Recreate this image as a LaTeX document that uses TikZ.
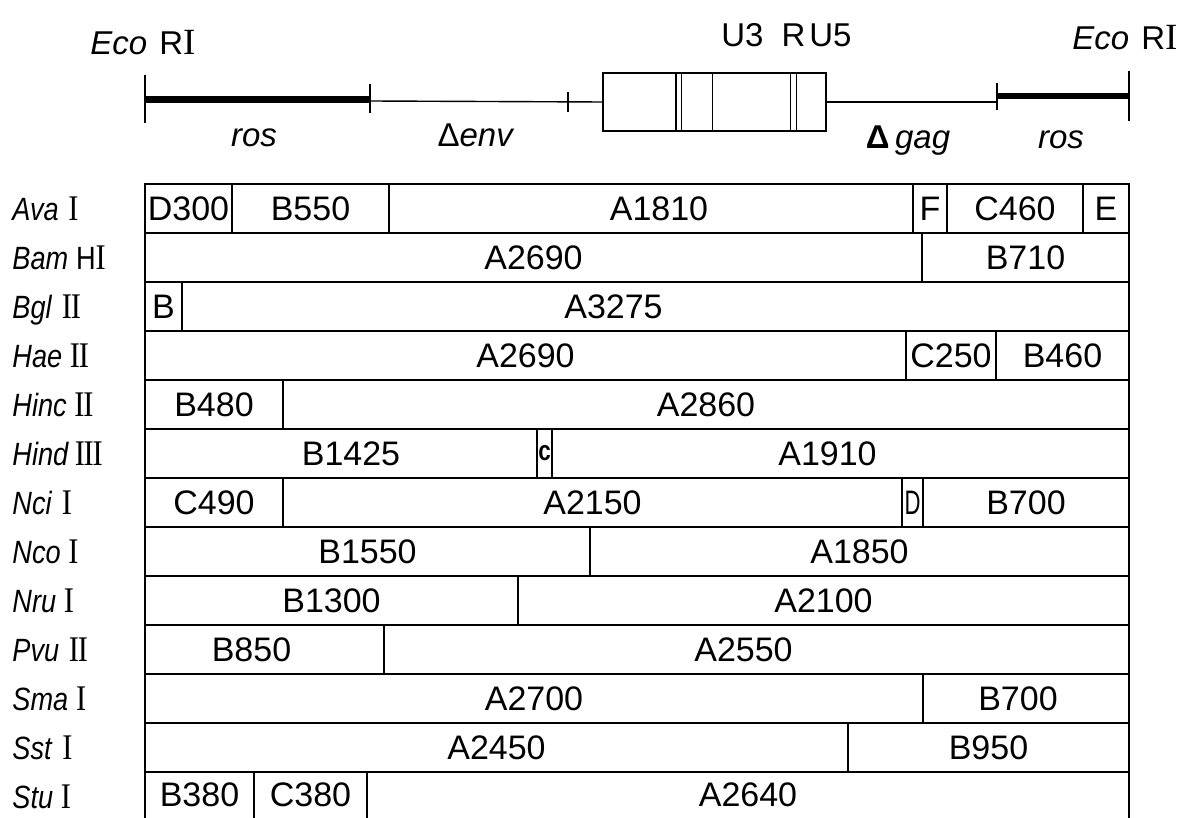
\documentclass[tikz,border=0pt]{standalone}
\usepackage{graphicx}
\usepackage{fontspec}
\setmainfont{Liberation Sans}
\newfontfamily\lserif{Liberation Serif}
\newcommand\cfnt{\fontsize{17}{17}\selectfont}
\newcommand\lfnt{\fontsize{14}{14}\selectfont}
\newcommand\tfnt{\fontsize{16.5}{16.5}\selectfont}
\newcommand\rn[1]{\scalebox{1.12}{\lserif #1}}
\newcommand\tall[1]{\scalebox{0.97}[1.15]{#1}}
\newcommand\cel[5]{\node[cellst, minimum width={(#3-#2)*0.5pt}] (#1) at ({(#2+#3)/2},{208.5+49*#4}) {#5};}
\newcommand\celo[6]{\node[cellst, minimum width={(#3-#2)*0.5pt}, label={[font=\cfnt, inner sep=0pt, xshift={#5*0.5pt}]center:#6}] (#1) at ({(#2+#3)/2},{208.5+49*#4}) {};}
\newcommand\stu[4]{\node[stust, minimum width={(#3-#2)*0.5pt}] (#1) at ({(#2+#3)/2},795) {#4};}
\newcommand\enz[3]{\node[enzst] (#1) at (12,{220.5+49*#2}) {\tall{#3}};}
\begin{document}
\begin{tikzpicture}[x=0.5pt,y=-0.5pt,
  cellst/.style={draw, line width=0.9pt, inner sep=0pt, outer sep=0pt, minimum height=24.5pt, font=\cfnt},
  stust/.style={inner sep=0pt, outer sep=0pt, minimum height=23pt, font=\cfnt},
  enzst/.style={anchor=base west, inner sep=0pt, font=\lfnt},
  toplab/.style={anchor=base, inner sep=0pt, font=\tfnt},
  thickbar/.style={line width=3.3pt},
  tickst/.style={line width=1pt},
  thinst/.style={line width=0.7pt},
  boxst/.style={draw, line width=0.8pt, inner sep=0pt, outer sep=0pt}]
\useasboundingbox (0,0) rectangle (1188,818);

% ---------- top map ----------
\coordinate (l0) at (145,99.5);
\coordinate (l1) at (370,99.5);
\coordinate (r0) at (997,96);
\coordinate (r1) at (1129,96);
\node[boxst, minimum width=111.5pt, minimum height=29pt] (ltr) at (714.5,102) {};
\draw[thickbar] (l0) -- (l1);
\draw[tickst] (145,75) -- (145,123);
\draw[tickst] (370,84) -- (370,113);
\draw[thinst] (370,101) -- (ltr.west);
\draw[tickst] (567.5,92) -- (567.5,112);
\foreach \x in {676,681.6,712.6,790.5,796.4} \draw[thinst] (\x,73) -- (\x,131);
\draw[thinst] (ltr.east) -- (997,102);
\draw[thickbar] (r0) -- (r1);
\draw[tickst] (997,83) -- (997,110);
\draw[tickst] (1129,71) -- (1129,121);

\node[toplab, anchor=base west] (ecoL) at (90,55) {\textit{Eco}\hspace{6pt}R\rn{I}};
\node[toplab, anchor=base west] (ecoR) at (1072,50) {\textit{Eco}\hspace{6pt}R\rn{I}};
\node[toplab] (ltrlab) at (786.5,46.5) {U3\hspace{9pt}R\hspace{2pt}U5};
\node[toplab] (rosL) at (254,147) {\textit{ros}};
\node[toplab] (env) at (476,147) {Δ\textit{env}};
\node[toplab] (gag) at (908,149) {\textbf{Δ}\,\textit{gag}};
\node[toplab] (rosR) at (1061,149) {\textit{ros}};

% ---------- enzyme names ----------
\enz{e0}{0}{\textit{Ava}\hspace{5pt}\rn{I}}
\enz{e1}{1}{\textit{Bam}\hspace{4pt}H\rn{I}}
\enz{e2}{2}{\textit{Bgl}\hspace{5pt}\rn{I\kern-0.04em I}}
\enz{e3}{3}{\textit{Hae}\hspace{4pt}\rn{I\kern-0.04em I}}
\enz{e4}{4}{\textit{Hinc}\hspace{4pt}\rn{I\kern-0.04em I}}
\enz{e5}{5}{\textit{Hind}\hspace{3pt}\rn{I\kern-0.04em I\kern-0.04em I}}
\enz{e6}{6}{\textit{Nci}\hspace{5pt}\rn{I}}
\enz{e7}{7}{\textit{Nco}\hspace{4pt}\rn{I}}
\enz{e8}{8}{\textit{Nru}\hspace{4pt}\rn{I}}
\enz{e9}{9}{\textit{Pvu}\hspace{5pt}\rn{I\kern-0.04em I}}
\enz{e10}{10}{\textit{Sma}\hspace{4pt}\rn{I}}
\enz{e11}{11}{\textit{Sst}\hspace{5pt}\rn{I}}
\enz{e12}{12}{\textit{Stu}\hspace{4pt}\rn{I}}

% ---------- fragment table ----------
% Ava I
\cel{a1}{145}{232}{0}{D300}
\cel{a2}{232}{389}{0}{B550}
\celo{a3}{389}{913}{0}{8}{A1810}
\cel{a4}{913}{947}{0}{F}
\cel{a5}{947}{1083}{0}{C460}
\cel{a6}{1083}{1129}{0}{E}
% Bam HI
\cel{b1}{145}{922}{1}{A2690}
\cel{b2}{922}{1129}{1}{B710}
% Bgl II
\cel{c1}{145}{182}{2}{B}
\celo{c2}{182}{1129}{2}{-42}{A3275}
% Hae II
\cel{d1}{145}{906}{3}{A2690}
\cel{d2}{906}{996}{3}{C250}
\cel{d3}{996}{1129}{3}{B460}
% Hinc II
\cel{f1}{145}{283}{4}{B480}
\cel{f2}{283}{1129}{4}{A2860}
% Hind III
\celo{g1}{145}{537}{5}{10}{B1425}
\cel{g2}{537}{552}{5}{\scalebox{0.8}[1]{\fontsize{14}{14}\selectfont\bfseries c}}
\celo{g3}{552}{1129}{5}{-13}{A1910}
% Nci I
\cel{h1}{145}{283}{6}{C490}
\cel{h2}{283}{902}{6}{A2150}
\cel{h3}{902}{923}{6}{\scalebox{0.65}[1]{D}}
\cel{h4}{923}{1129}{6}{B700}
% Nco I
\cel{i1}{145}{590}{7}{B1550}
\cel{i2}{590}{1129}{7}{A1850}
% Nru I
\cel{j1}{145}{518}{8}{B1300}
\cel{j2}{518}{1129}{8}{A2100}
% Pvu II
\celo{k1}{145}{384}{9}{-13}{B850}
\celo{k2}{384}{1129}{9}{-13}{A2550}
% Sma I
\cel{m1}{145}{923}{10}{A2700}
\celo{m2}{923}{1129}{10}{-8}{B700}
% Sst I
\cel{n1}{145}{848}{11}{A2450}
\cel{n2}{848}{1129}{11}{B950}
% Stu I (open at the bottom)
\stu{s1}{145}{254}{B380}
\stu{s2}{254}{367}{C380}
\stu{s3}{367}{1129}{A2640}
\draw[line width=0.9pt] (s1.south west) -- (s1.north west) -- (s3.north east) -- (s3.south east);
\draw[line width=0.9pt] (s1.north east) -- (s1.south east);
\draw[line width=0.9pt] (s2.north east) -- (s2.south east);
\end{tikzpicture}
\end{document}
